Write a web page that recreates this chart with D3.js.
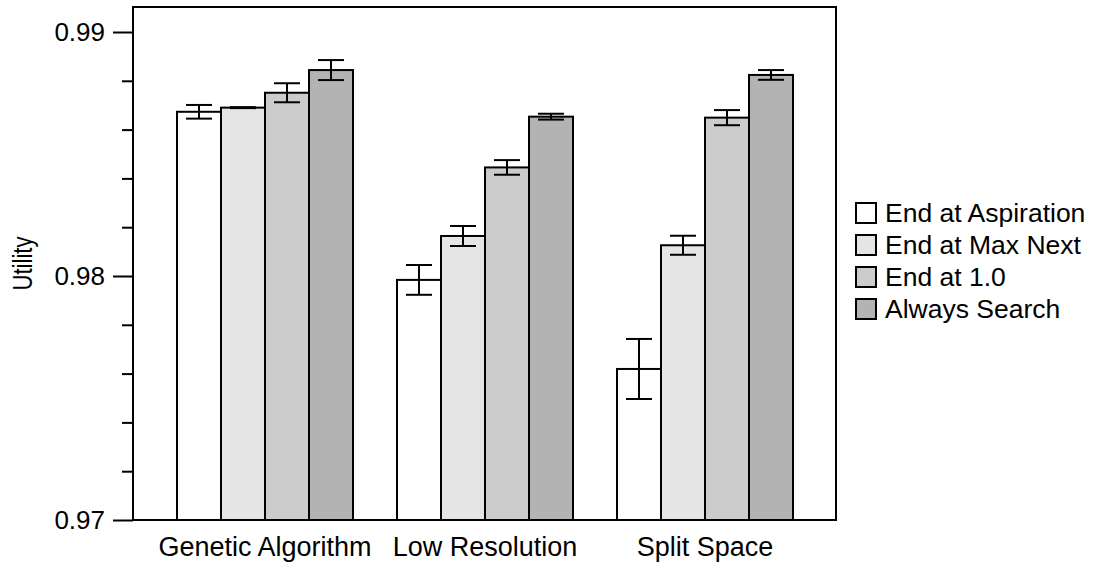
<!DOCTYPE html>
<html>
<head>
<meta charset="utf-8">
<script src="https://cdn.jsdelivr.net/npm/d3@7"></script>
<style>
  body { margin: 0; background: #fff; }
  text { font-family: "Liberation Sans", Arial, sans-serif; fill: #000; }
</style>
</head>
<body>
<div id="chart"></div>
<script>
// categories and series
var groups = ["Genetic Algorithm", "Low Resolution", "Split Space"];
var seriesNames = ["End at Aspiration", "End at Max Next", "End at 1.0", "Always Search"];
var seriesFills = ["#ffffff", "#e5e5e5", "#cccccc", "#b3b3b3"];

// mean utility per group, one array per series
var endAspiration = [0.98673, 0.97984, 0.97619];
var endMaxNext    = [0.98690, 0.98164, 0.98126];
var endAtOne      = [0.98751, 0.98445, 0.98649];
var alwaysSearch  = [0.98844, 0.98653, 0.98824];

// half-widths of the error bars
var errAspiration = [0.00028, 0.00061, 0.00123];
var errMaxNext    = [0.00002, 0.00041, 0.00039];
var errAtOne      = [0.00039, 0.00030, 0.00031];
var errAlways     = [0.00041, 0.00012, 0.00020];

var majorTicks = [0.97, 0.98, 0.99];
var tickLabels = ["0.97", "0.98", "0.99"];

(function() {
    var width = 1096, height = 563;
    var mLeft = 133, mRight = 837, mTop = 7, mBottom = 520;

    var means = [endAspiration, endMaxNext, endAtOne, alwaysSearch];
    var errs = [errAspiration, errMaxNext, errAtOne, errAlways];

    // flatten into bar records
    var bars = [];
    seriesNames.forEach(function(s, si) {
        groups.forEach(function(g, gi) {
            bars.push({ group: g, series: s, si: si, v: means[si][gi], e: errs[si][gi] });
        });
    });

    var svg = d3.select("#chart").append("svg")
        .attr("width", width)
        .attr("height", height);

    var y = d3.scaleLinear()
        .domain([0.97, 0.97 + (mBottom - mTop) / 24400])
        .range([mBottom, mTop]);

    var x0 = d3.scaleBand()
        .domain(groups)
        .range([mLeft, mRight])
        .paddingInner(0.2)
        .paddingOuter(0.2);

    var x1 = d3.scaleBand()
        .domain(seriesNames)
        .range([0, x0.bandwidth()]);

    //bars
    svg.selectAll("rect.bar")
        .data(bars)
        .enter()
        .append("rect")
        .attr("class", "bar")
        .attr("x", function(d) { return x0(d.group) + x1(d.series); })
        .attr("y", function(d) { return y(d.v); })
        .attr("width", x1.bandwidth())
        .attr("height", function(d) { return y(0.97) - y(d.v); })
        .style("fill", function(d) { return seriesFills[d.si]; })
        .style("stroke", "#000")
        .style("stroke-width", 2);

    //error bars
    var capHalf = 13;
    var eb = svg.selectAll("g.err")
        .data(bars)
        .enter()
        .append("g")
        .attr("class", "err")
        .attr("transform", function(d) {
            return "translate(" + (x0(d.group) + x1(d.series) + x1.bandwidth() / 2) + ",0)";
        })
        .style("stroke", "#000")
        .style("stroke-width", 2);

    eb.append("line")
        .attr("x1", 0).attr("x2", 0)
        .attr("y1", function(d) { return y(d.v + d.e); })
        .attr("y2", function(d) { return y(d.v - d.e); });
    eb.append("line")
        .attr("x1", -capHalf).attr("x2", capHalf)
        .attr("y1", function(d) { return y(d.v + d.e); })
        .attr("y2", function(d) { return y(d.v + d.e); });
    eb.append("line")
        .attr("x1", -capHalf).attr("x2", capHalf)
        .attr("y1", function(d) { return y(d.v - d.e); })
        .attr("y2", function(d) { return y(d.v - d.e); });

    //frame
    svg.append("rect")
        .attr("x", mLeft)
        .attr("y", mTop)
        .attr("width", 703)
        .attr("height", mBottom - mTop)
        .style("fill", "none")
        .style("stroke", "#000")
        .style("stroke-width", 2);

    //y axis: major ticks with labels, minor ticks between
    var yAxis = d3.axisLeft(y)
        .tickValues(majorTicks)
        .tickSize(20)
        .tickPadding(8)
        .tickFormat(function(d, i) { return tickLabels[i]; });

    var minorTicks = d3.range(0.972, 0.9895, 0.002).filter(function(v) {
        return Math.abs(v - 0.98) > 1e-6;
    });

    var yMinor = d3.axisLeft(y)
        .tickValues(minorTicks)
        .tickSize(11)
        .tickFormat("");

    var ga = svg.append("g")
        .attr("transform", "translate(" + mLeft + ",0)")
        .call(yAxis);
    svg.append("g")
        .attr("transform", "translate(" + mLeft + ",0)")
        .call(yMinor);

    svg.selectAll(".domain").remove();
    svg.selectAll(".tick line").style("stroke", "#000").style("stroke-width", 2);
    ga.selectAll(".tick text")
        .style("font-size", "26px")
        .style("font-family", "'Liberation Sans', Arial, sans-serif")
        .attr("fill", "#000");

    //x labels
    svg.selectAll("text.xlbl")
        .data(groups)
        .enter()
        .append("text")
        .attr("class", "xlbl")
        .attr("x", function(d) { return x0(d) + x0.bandwidth() / 2; })
        .attr("y", 556)
        .attr("text-anchor", "middle")
        .style("font-size", "27px")
        .text(function(d) { return d; });

    //y title
    svg.append("text")
        .attr("transform", "translate(32," + ((mTop + mBottom) / 2) + ") rotate(-90)")
        .attr("text-anchor", "middle")
        .attr("textLength", 54)
        .attr("lengthAdjust", "spacingAndGlyphs")
        .style("font-size", "27px")
        .text("Utility");

    //legend
    var legend = svg.selectAll("g.leg")
        .data(seriesNames)
        .enter()
        .append("g")
        .attr("class", "leg")
        .attr("transform", function(d, i) { return "translate(856," + (213 + i * 32) + ")"; });

    legend.append("rect")
        .attr("x", 0)
        .attr("y", -10)
        .attr("width", 20)
        .attr("height", 20)
        .style("fill", function(d, i) { return seriesFills[i]; })
        .style("stroke", "#000")
        .style("stroke-width", 2);

    legend.append("text")
        .attr("x", 29)
        .attr("y", 9)
        .style("font-size", "26.5px")
        .text(function(d) { return d; });
})();
</script>
</body>
</html>
